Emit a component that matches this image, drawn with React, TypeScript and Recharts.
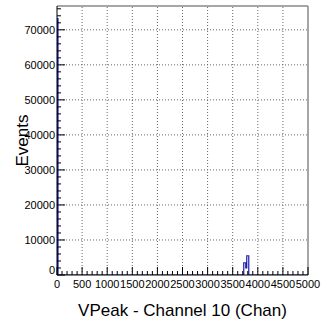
import { LineChart, Line, XAxis, YAxis, ReferenceLine, Label } from 'recharts';

// histogram bins (low edge in Chan, events), everything else empty
const binLow = [0, 20, 3720, 3760, 3780, 3820];
const binCount = [73200, 0, 3500, 2000, 5500, 0];

const xLabels = [0, 500, 1000, 1500, 2000, 2500, 3000, 3500, 4000, 4500, 5000];
const yLabels = [0, 10000, 20000, 30000, 40000, 50000, 60000, 70000];

const X_MAX = 5000;
const Y_MAX = 76800;

const xTicks: number[] = [];
for (let v = 0; v <= X_MAX; v += 100) xTicks.push(v);
const yTicks: number[] = [];
for (let v = 0; v <= 76000; v += 2000) yTicks.push(v);

const data = [{ x: 0, n: 0 }, ...binLow.map((x, i) => ({ x, n: binCount[i] })), { x: X_MAX, n: 0 }];

const FONT = '"Liberation Sans", Arial, Helvetica, sans-serif';

function XTick(props: any) {
  const { x, y, payload } = props;
  const v = payload.value;
  const major = v % 500 === 0;
  return (
    <g>
      <line x1={x} x2={x} y1={y} y2={y - (major ? 8 : 4)} stroke="#000" />
      {major && (
        <text x={x} y={y + 13} textAnchor="middle" fontSize={11} fontFamily={FONT} fill="#000">
          {v}
        </text>
      )}
    </g>
  );
}

function YTick(props: any) {
  const { x, y, payload } = props;
  const v = payload.value;
  const major = v % 10000 === 0;
  return (
    <g>
      <line x1={x} x2={x + (major ? 8 : 4)} y1={y} y2={y} stroke="#000" />
      {major && (
        <text x={x - 2} y={v === 0 ? y - 1 : y + 4} textAnchor="end" fontSize={11} fontFamily={FONT} fill="#000">
          {v}
        </text>
      )}
    </g>
  );
}

export default function App() {
  return (
    <div style={{ position: 'absolute', left: 0, top: 0, background: '#fff' }}>
      <LineChart width={322} height={323} data={data} margin={{ top: 6, right: 14, left: 0, bottom: 0 }}>
        <XAxis
          dataKey="x"
          type="number"
          domain={[0, X_MAX]}
          ticks={xTicks}
          interval={0}
          tickSize={0}
          tickMargin={0}
          tick={<XTick />}
          height={48}
          axisLine={{ stroke: '#000' }}
          allowDataOverflow
        >
          <Label
            content={({ viewBox }: any) => (
              <text
                x={viewBox.x + viewBox.width / 2}
                y={viewBox.y + 41}
                textAnchor="middle"
                fontSize={17}
                fontFamily={FONT}
                fill="#000"
              >
                VPeak - Channel 10 (Chan)
              </text>
            )}
          />
        </XAxis>
        <YAxis
          type="number"
          domain={[0, Y_MAX]}
          ticks={yTicks}
          interval={0}
          tickSize={0}
          tickMargin={0}
          tick={<YTick />}
          width={57}
          axisLine={{ stroke: '#000' }}
          allowDataOverflow
        >
          <Label
            content={({ viewBox }: any) => {
              const cx = 28;
              const cy = viewBox.y + viewBox.height / 2;
              return (
                <text
                  x={cx}
                  y={cy}
                  transform={`rotate(-90, ${cx}, ${cy})`}
                  textAnchor="middle"
                  fontSize={17}
                  fontFamily={FONT}
                  fill="#000"
                >
                  Events
                </text>
              );
            }}
          />
        </YAxis>
        {xLabels.slice(1, -1).map((v) => (
          <ReferenceLine key={`gx${v}`} x={v} stroke="#666" strokeDasharray="1 2" />
        ))}
        {yLabels.slice(1).map((v) => (
          <ReferenceLine key={`gy${v}`} y={v} stroke="#666" strokeDasharray="1 2" />
        ))}
        <ReferenceLine y={Y_MAX} stroke="#888" strokeWidth={1.5} />
        <ReferenceLine x={X_MAX} stroke="#888" strokeWidth={1.5} />
        <Line
          dataKey="n"
          type="stepAfter"
          stroke="#1c1cb0"
          strokeWidth={1.2}
          dot={false}
          activeDot={false}
          isAnimationActive={false}
        />
      </LineChart>
    </div>
  );
}
